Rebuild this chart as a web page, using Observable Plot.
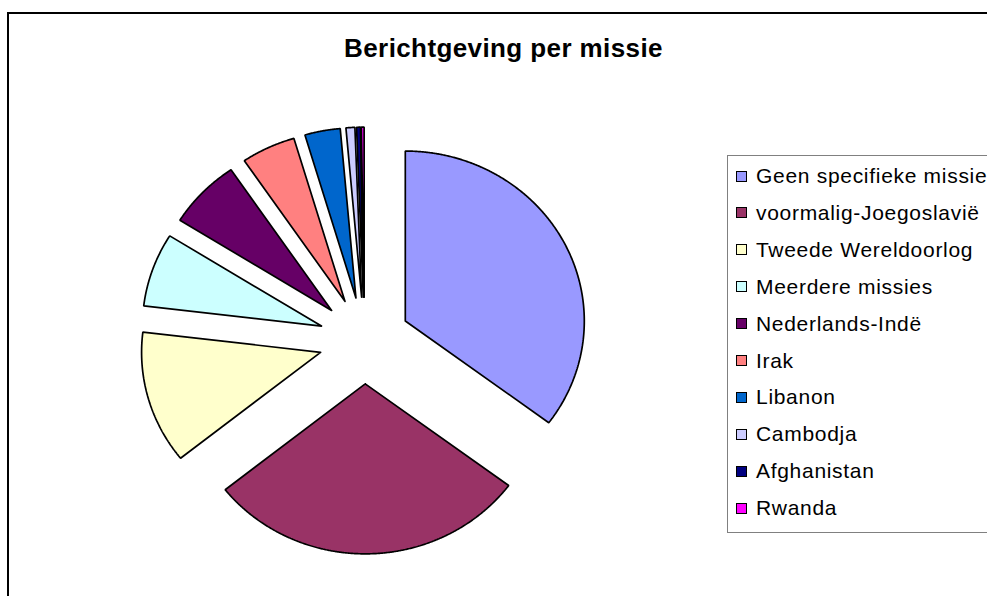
<!DOCTYPE html>
<html>
<head>
<meta charset="utf-8">
<script src="https://cdn.jsdelivr.net/npm/d3@7"></script>
<script src="https://cdn.jsdelivr.net/npm/@observablehq/plot@0.6"></script>
<style>
  html, body { margin: 0; padding: 0; background: #fff; overflow: hidden; }
  body { width: 987px; height: 596px; position: relative; font-family: "Liberation Sans", Arial, sans-serif; }
  #frame { position: absolute; left: 7px; top: 12px; width: 1100px; height: 700px; border: 2px solid #000; box-sizing: border-box; }
  #chart { position: absolute; left: 0; top: 0; }
  #title { position: absolute; left: 503.5px; top: 32px; transform: translateX(-50%); font-weight: bold; font-size: 26px; letter-spacing: 0.4px; line-height: 32px; white-space: nowrap; color: #000; }
  #legend { position: absolute; left: 727px; top: 155px; width: 320px; height: 378px; border: 1px solid #808080; box-sizing: border-box; }
  .row { position: absolute; left: 756px; font-size: 21px; letter-spacing: 0.7px; line-height: 26px; white-space: nowrap; color: #000; }
  .sw { position: absolute; left: 736px; width: 9px; height: 9px; border: 1px solid #000; }
</style>
</head>
<body>
<div id="frame"></div>
<div id="chart"></div>
<div id="title">Berichtgeving per missie</div>
<div id="legend"></div>
<script>
// Data
const categories = ["Geen specifieke missie", "voormalig-Joegoslavië", "Tweede Wereldoorlog", "Meerdere missies", "Nederlands-Indë", "Irak", "Libanon", "Cambodja", "Afghanistan", "Rwanda"];
const shares = [35.2, 29.1, 12.6, 7.0, 6.6, 4.9, 3.2, 0.8, 0.35, 0.25];
const colors = ["#9999FF", "#993366", "#FFFFCC", "#CCFFFF", "#660066", "#FF8080", "#0066CC", "#CCCCFF", "#000080", "#FF00FF"];

// Layout constants
const W = 987, H = 596;
const cx = 364, cy = 340;        // pixel centre
const RX = 179, RY = 170;        // pixel radii (slightly elliptical like the original)
const explode = 0.255;           // in radius units

// Pie angles (clockwise from 12 o'clock)
const pie = d3.pie().sort(null).value(d => d)(shares);

const slices = pie.map((p, i) => {
  const mid = (p.startAngle + p.endAngle) / 2;
  const ox = explode * Math.sin(mid), oy = explode * Math.cos(mid);
  const n = Math.max(2, Math.ceil((p.endAngle - p.startAngle) / 0.005));
  const pts = [{x: ox, y: oy}];
  for (let k = 0; k <= n; k++) {
    const a = p.startAngle + (p.endAngle - p.startAngle) * k / n;
    pts.push({x: ox + Math.sin(a), y: oy + Math.cos(a)});
  }
  pts.push({x: ox, y: oy});
  return {i, pts};
});

const marks = slices.map(s => Plot.line(s.pts, {
  x: "x", y: "y", fill: colors[s.i], stroke: "#000", strokeWidth: 1.7,
  strokeLinejoin: "miter", curve: "linear"
}));

const chart = Plot.plot({
  width: W, height: H,
  margin: 0,
  x: {domain: [(0 - cx) / RX, (W - cx) / RX], range: [0, W], axis: null},
  y: {domain: [(cy - H) / RY, cy / RY], range: [H, 0], axis: null},
  style: {background: "transparent"},
  marks
});
document.getElementById("chart").appendChild(chart);

// Legend
const body = document.body;
categories.forEach((c, i) => {
  const yc = 176 + i * 36.9;
  const sw = document.createElement("div");
  sw.className = "sw";
  sw.style.top = (yc - 5.5) + "px";
  sw.style.background = colors[i];
  body.appendChild(sw);
  const t = document.createElement("div");
  t.className = "row";
  t.style.top = (yc - 13) + "px";
  t.textContent = c;
  body.appendChild(t);
});
</script>
</body>
</html>
